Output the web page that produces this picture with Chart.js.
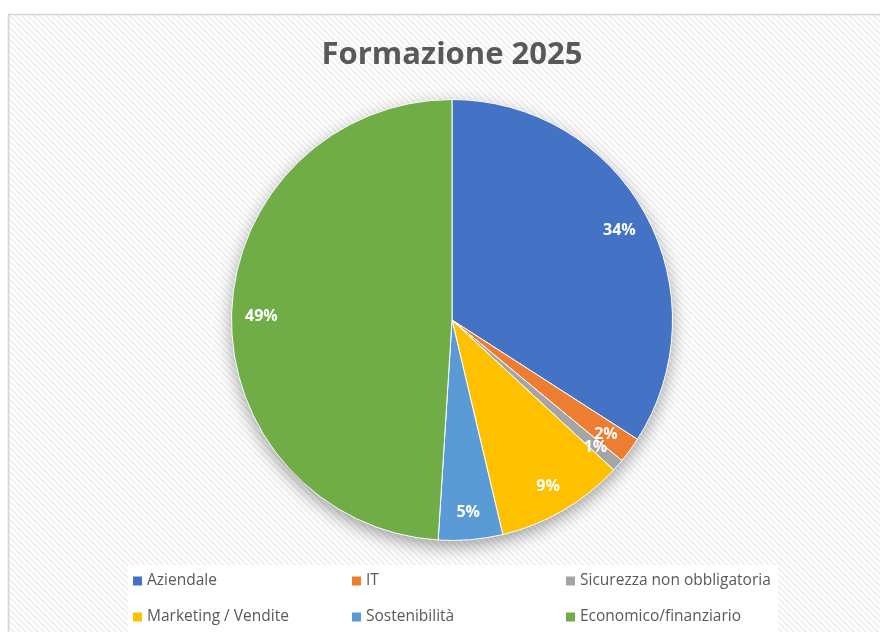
<!DOCTYPE html>
<html>
<head>
<meta charset="utf-8">
<script src="https://cdn.jsdelivr.net/npm/chart.js@4.4.1/dist/chart.umd.min.js"></script>
<style>
    html, body { margin: 0; padding: 0; background: #fff; }
    #wrap { width: 880px; height: 632px; position: relative; }
</style>
</head>
<body>
<div id="wrap"><canvas id="pie"></canvas></div>
<script>
const categories = ['Aziendale', 'IT', 'Sicurezza non obbligatoria', 'Marketing / Vendite', 'Sostenibilità', 'Economico/finanziario'];
const shares = [34.1, 1.9, 0.9, 9.4, 4.7, 49.0];
const sliceColors = ['#4472C4', '#ED7D31', '#A5A5A5', '#FFC000', '#5B9BD5', '#70AD47'];
const chartTitle = 'Formazione 2025';

// diagonal hatch like the excel chart area
function makeHatch() {
    const tile = document.createElement('canvas');
    tile.width = 6;
    tile.height = 6;
    const t = tile.getContext('2d');
    t.fillStyle = '#ffffff';
    t.fillRect(0, 0, 6, 6);
    t.strokeStyle = '#eeeeee';
    t.lineWidth = 1.6;
    t.beginPath();
    t.moveTo(-1, -1); t.lineTo(7, 7);
    t.moveTo(-4, 2); t.lineTo(4, 10);
    t.moveTo(2, -4); t.lineTo(10, 4);
    t.stroke();
    return tile;
}

const backgroundPlugin = {
    id: 'excelBackground',
    beforeDraw(chart) {
        const ctx = chart.ctx;
        ctx.save();
        ctx.fillStyle = '#ffffff';
        ctx.fillRect(0, 0, chart.width, chart.height);
        ctx.fillStyle = ctx.createPattern(makeHatch(), 'repeat');
        ctx.fillRect(9, 15, chart.width - 9, chart.height - 15);
        ctx.strokeStyle = '#d4d4d4';
        ctx.lineWidth = 1.5;
        ctx.strokeRect(8.5, 14.5, chart.width + 10, chart.height + 10);
        // legend box
        ctx.fillStyle = '#ffffff';
        ctx.fillRect(128, 565, 650, chart.height - 565);
        ctx.restore();
    }
};

const shadowPlugin = {
    id: 'pieShadow',
    beforeDatasetsDraw(chart) {
        const arc = chart.getDatasetMeta(0).data[0];
        if (!arc) return;
        const ctx = chart.ctx;
        ctx.save();
        ctx.shadowColor = 'rgba(0, 0, 0, 0.4)';
        ctx.shadowBlur = 18;
        ctx.shadowOffsetY = 6;
        ctx.fillStyle = '#ffffff';
        ctx.beginPath();
        ctx.arc(arc.x, arc.y, arc.outerRadius - 1, 0, Math.PI * 2);
        ctx.fill();
        ctx.restore();
    }
};

const percentLabelPlugin = {
    id: 'percentLabels',
    afterDatasetsDraw(chart) {
        const ctx = chart.ctx;
        const values = chart.data.datasets[0].data;
        const total = values.reduce((a, b) => a + b, 0);
        ctx.save();
        ctx.fillStyle = '#ffffff';
        ctx.font = 'bold 16px "Open Sans"';
        ctx.textAlign = 'center';
        ctx.textBaseline = 'middle';
        chart.getDatasetMeta(0).data.forEach((arc, i) => {
            const mid = (arc.startAngle + arc.endAngle) / 2;
            const r = arc.outerRadius * 0.865;
            const x = arc.x + Math.cos(mid) * r;
            const y = arc.y + Math.sin(mid) * r + 2;
            ctx.fillText(Math.round(values[i] / total * 100) + '%', x, y);
        });
        ctx.restore();
    }
};

const legendPlugin = {
    id: 'gridLegend',
    afterDraw(chart) {
        const ctx = chart.ctx;
        const colX = [133, 352, 566];
        const rowY = [581, 617];
        ctx.save();
        ctx.font = '15.5px "Open Sans"';
        ctx.textBaseline = 'middle';
        ctx.textAlign = 'left';
        chart.data.labels.forEach((label, i) => {
            const x = colX[i % 3];
            const y = rowY[Math.floor(i / 3)];
            ctx.fillStyle = chart.data.datasets[0].backgroundColor[i];
            ctx.fillRect(x, y - 4.5, 9, 9);
            ctx.fillStyle = '#595959';
            ctx.fillText(label, x + 14, y);
        });
        ctx.restore();
    }
};

new Chart(document.getElementById('pie').getContext('2d'), {
    type: 'pie',
    data: {
        labels: categories,
        datasets: [{
            data: shares,
            backgroundColor: sliceColors,
            borderColor: '#ffffff',
            borderWidth: 1
        }]
    },
    options: {
        responsive: true,
        maintainAspectRatio: false,
        animation: false,
        layout: {
            padding: { left: 231, right: 207, top: 0, bottom: 91 }
        },
        plugins: {
            legend: { display: false },
            tooltip: { enabled: false },
            title: {
                display: true,
                text: chartTitle,
                color: '#595959',
                font: { family: '"Open Sans"', size: 31, weight: 'bold' },
                padding: { top: 37, bottom: 24.8 }
            }
        }
    },
    plugins: [backgroundPlugin, shadowPlugin, percentLabelPlugin, legendPlugin]
});
</script>
</body>
</html>
